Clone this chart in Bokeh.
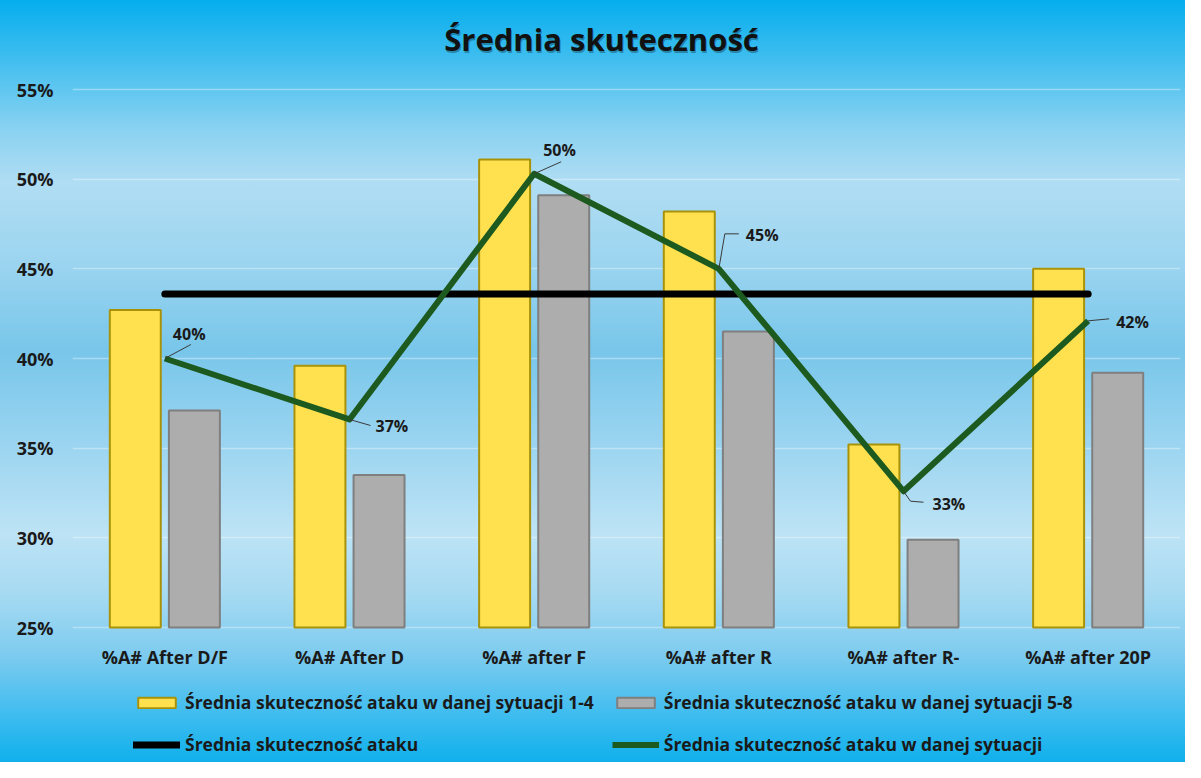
import numpy as np
from bokeh.plotting import figure
from bokeh.models import (ColumnDataSource, Legend, LegendItem, FixedTicker,
                          PrintfTickFormatter, Range1d, Label)
from bokeh.embed import file_html
from bokeh.resources import INLINE

# ---------------- data ----------------
title_text = "Średnia skuteczność"
categories = ["%A# After D/F", "%A# After D", "%A# after F",
              "%A# after R", "%A# after R-", "%A# after 20P"]
series_1_4 = [42.7, 39.6, 51.1, 48.2, 35.2, 45.0]     # Średnia skuteczność ataku w danej sytuacji 1-4
series_5_8 = [37.1, 33.5, 49.1, 41.5, 29.9, 39.2]     # Średnia skuteczność ataku w danej sytuacji 5-8
series_situation = [40.0, 36.6, 50.3, 45.0, 32.6, 42.1]  # Średnia skuteczność ataku w danej sytuacji
overall_mean = 43.6                                    # Średnia skuteczność ataku
y_ticks = [25, 30, 35, 40, 45, 50, 55]

names = ["Średnia skuteczność ataku w danej sytuacji 1-4",
         "Średnia skuteczność ataku w danej sytuacji 5-8",
         "Średnia skuteczność ataku",
         "Średnia skuteczność ataku w danej sytuacji"]

# ---------------- styles ----------------
FONT = "Open Sans"
W, H = 1185, 762
FL, FR, FT = 72, 5, 89
PLOT_H = 538           # pixel height of the 25%..55% value band
n = len(categories)
frame_w = W - FL - FR
px_x = n / frame_w                                  # data units per pixel (x)
px_y = (y_ticks[-1] - y_ticks[0]) / PLOT_H          # data units per pixel (y)
y_lo = y_ticks[0] - (H - FT - PLOT_H) * px_y         # room under the bars for labels + legend
y_hi = y_ticks[-1] + FT * px_y                       # room above for the title

idx = np.arange(n, dtype=float)
bar_w = 0.276
bar_shift = 0.16

p = figure(width=W, height=H, output_backend="svg", toolbar_location=None,
           x_range=Range1d(-0.5, n - 0.5), y_range=Range1d(y_lo, y_hi),
           min_border_left=FL, min_border_right=FR, min_border_top=0, min_border_bottom=0)
p.styles = {"background": "linear-gradient(to bottom, #05AEEE 0%, #3ABCEF 7%, #8AD2F1 17%, "
                          "#B0DDF3 24%, #9DD5F0 34%, #78C6EA 46%, #9AD4F0 58%, #BDE3F5 70%, "
                          "#A6DAF2 78%, #7DCBEF 86%, #3DBCEF 94%, #10B0EC 100%)"}
p.background_fill_alpha = 0
p.border_fill_alpha = 0
p.outline_line_color = None

# title (with a soft dark shadow)
title_x = (n - 1) / 2
for dx, dy, col, alpha in [(1, -2, "#000000", 0.30), (0, 0, "#111111", 1.0)]:
    p.add_layout(Label(x=title_x, y=y_ticks[-1], x_offset=-25 + dx, y_offset=51 + dy,
                       text=title_text, text_font=FONT, text_font_size="31px",
                       text_font_style="bold", text_color=col, text_alpha=alpha,
                       text_align="center", text_baseline="middle"))

# grid
p.xgrid.grid_line_color = None
p.ygrid.grid_line_color = "#FFFFFF"
p.ygrid.grid_line_alpha = 0.35
p.ygrid.grid_line_width = 1.5

# axes
p.xaxis.visible = False
p.yaxis.ticker = FixedTicker(ticks=y_ticks)
p.yaxis.formatter = PrintfTickFormatter(format="%d%%")
p.yaxis.axis_line_color = None
p.yaxis.major_tick_line_color = None
p.yaxis.minor_tick_line_color = None
p.yaxis.major_label_standoff = 13
p.yaxis.major_label_text_font = FONT
p.yaxis.major_label_text_font_size = "18px"
p.yaxis.major_label_text_font_style = "bold"
p.yaxis.major_label_text_color = "#1a1a1a"

src = ColumnDataSource(dict(
    x=idx, x1=idx - bar_shift, x2=idx + bar_shift,
    cat=categories, base=[y_ticks[0]] * n,
    a=series_1_4, b=series_5_8, s=series_situation,
    lab=[f"{round(v)}%" for v in series_situation],
    dx=[8, 26, 9, 27, 29, 28],
    dy=[-25, 7, -24, -34, 13, 1],
))

r_a = p.vbar(x="x1", top="a", bottom=y_ticks[0], width=bar_w, source=src,
             fill_color="#FFE150", line_color="#A8920A", line_width=2)
r_b = p.vbar(x="x2", top="b", bottom=y_ticks[0], width=bar_w, source=src,
             fill_color="#ADADAD", line_color="#7F7F7F", line_width=2)

r_mean = p.line(x=[idx[0], idx[-1]], y=[overall_mean, overall_mean],
                line_color="#000000", line_width=7, line_cap="round")
r_sit = p.line(x="x", y="s", source=src, line_color="#1D5A1F", line_width=6,
               line_join="round")

# leader lines (from each point towards its label)
lead = [[(0, 0), (26, -14)], [(0, 0), (21, 6)], [(0, 0), (27, -12)],
        [(0, 0), (6, -35), (20, -35)], [(0, 0), (7, 10), (20, 11)], [(0, 0), (21, -2)]]
xs = [[idx[i] + dx * px_x for dx, dy in seg] for i, seg in enumerate(lead)]
ys = [[series_situation[i] - dy * px_y for dx, dy in seg] for i, seg in enumerate(lead)]
p.multi_line(xs=xs, ys=ys, line_color="#3a3a3a", line_width=1)

p.text(x="x", y="s", text="lab", source=src, x_offset="dx", y_offset="dy",
       text_font={"value": FONT}, text_font_size="16px", text_font_style="bold",
       text_color="#1a1a1a", text_align="left", text_baseline="middle")

# category labels under the bars
p.text(x="x", y="base", text="cat", source=src, y_offset=29,
       text_font={"value": FONT}, text_font_size="18px", text_font_style="bold",
       text_color="#1a1a1a", text_align="center", text_baseline="middle")

legend = Legend(items=[LegendItem(label=names[0], renderers=[r_a]),
                       LegendItem(label=names[1], renderers=[r_b]),
                       LegendItem(label=names[2], renderers=[r_mean]),
                       LegendItem(label=names[3], renderers=[r_sit])],
                orientation="horizontal", ncols=2,
                location=(61, 6), background_fill_alpha=0, border_line_color=None,
                padding=0, margin=0, spacing=18, glyph_width=47, glyph_height=13,
                label_standoff=5, label_height=20,
                label_text_font=FONT, label_text_font_size="17.5px",
                label_text_font_style="bold", label_text_color="#1a1a1a")
p.add_layout(legend, "center")

open("out.html", "w").write(file_html(p, INLINE))
